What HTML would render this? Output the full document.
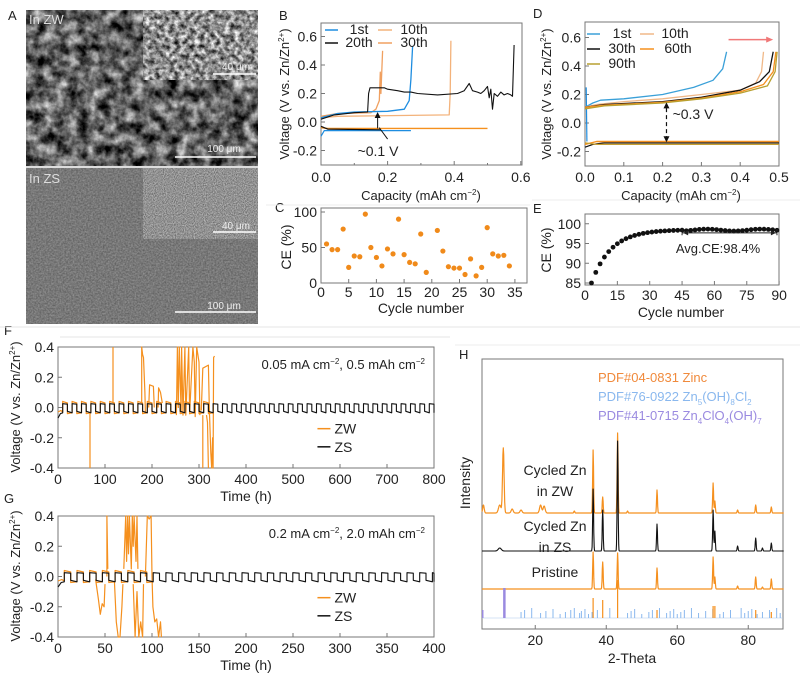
<!DOCTYPE html>
<html><head><meta charset="utf-8">
<style>
html,body{margin:0;padding:0;background:#fff;}
svg{display:block;font-family:"Liberation Sans",Arial,sans-serif;}
</style></head>
<body>
<svg id="s" width="800" height="675" viewBox="0 0 800 675" xmlns="http://www.w3.org/2000/svg">
<defs>
<filter id="semA" x="0" y="0" width="100%" height="100%" color-interpolation-filters="sRGB">
<feTurbulence type="fractalNoise" baseFrequency="0.09" numOctaves="4" seed="3"/>
<feColorMatrix type="matrix" values="1.3 0 0 0 -0.27  1.3 0 0 0 -0.27  1.3 0 0 0 -0.27  0 0 0 0 1"/>
</filter>
<filter id="semAi" x="0" y="0" width="100%" height="100%" color-interpolation-filters="sRGB">
<feTurbulence type="fractalNoise" baseFrequency="0.2" numOctaves="3" seed="7"/>
<feColorMatrix type="matrix" values="1.4 0 0 0 -0.15  1.4 0 0 0 -0.15  1.4 0 0 0 -0.15  0 0 0 0 1"/>
</filter>
<filter id="semB" x="0" y="0" width="100%" height="100%" color-interpolation-filters="sRGB">
<feTurbulence type="fractalNoise" baseFrequency="0.6" numOctaves="2" seed="5"/>
<feColorMatrix type="matrix" values="0.3 0 0 0 0.32  0.3 0 0 0 0.32  0.3 0 0 0 0.32  0 0 0 0 1"/>
</filter>
<filter id="semBi" x="0" y="0" width="100%" height="100%" color-interpolation-filters="sRGB">
<feTurbulence type="fractalNoise" baseFrequency="0.9" numOctaves="2" seed="9"/>
<feColorMatrix type="matrix" values="0.6 0 0 0 0.27  0.6 0 0 0 0.27  0.6 0 0 0 0.27  0 0 0 0 1"/>
</filter>
</defs>
<g id="g"></g>
</svg>
<script>
var S='';
function add(s){S+=s;}
function T(x,y,t,sz,anchor,col,extra){add('<text x="'+x+'" y="'+y+'" font-size="'+(sz||13)+'" text-anchor="'+(anchor||'middle')+'" fill="'+(col||'#222')+'" '+(extra||'')+'>'+t+'</text>');}
function L(x1,y1,x2,y2,c,w,extra){add('<line x1="'+x1+'" y1="'+y1+'" x2="'+x2+'" y2="'+y2+'" stroke="'+(c||'#555')+'" stroke-width="'+(w||1)+'" '+(extra||'')+'/>');}
function PL(pts,c,w,op){var d='';for(var i=0;i<pts.length;i++)d+=(i?'L':'M')+pts[i][0].toFixed(1)+' '+pts[i][1].toFixed(1);add('<path d="'+d+'" fill="none" stroke="'+c+'" stroke-width="'+(w||1.2)+'" '+(op?'stroke-opacity="'+op+'"':'')+' stroke-linejoin="round"/>');}
function frame(x1,y1,x2,y2){add('<rect x="'+x1+'" y="'+y1+'" width="'+(x2-x1)+'" height="'+(y2-y1)+'" fill="none" stroke="#777" stroke-width="1"/>');}
function map(pts,fx,fy){return pts.map(function(p){return [fx(p[0]),fy(p[1])];});}
var OR='#f5901e',LO='#f3b27a',BL='#1e8de0',BK='#111',TK=14;
function run(f){try{f();}catch(e){}}

T(8,20,'A',13,'start');T(279,20,'B',13,'start');T(275,212,'C',13,'start');T(533,18,'D',13,'start');T(533,213,'E',13,'start');
T(4,335,'F',13,'start');T(4,503,'G',13,'start');T(459,359,'H',13,'start');
L(0,327,800,327,'#e4e4e4',1);L(60,337,450,337,'#e4e4e4',1);L(455,345,800,345,'#eee',1);L(266,205,530,205,'#eee',1);L(532,200,800,200,'#eee',1);

// ===== A
run(function(){
add('<rect x="26" y="10" width="232" height="156" filter="url(#semA)"/>');
add('<rect x="143" y="10" width="115" height="70" filter="url(#semAi)" stroke="#eee" stroke-width="1"/>');
add('<rect x="26" y="168" width="232" height="156" filter="url(#semB)"/>');
add('<rect x="143" y="168" width="115" height="71" filter="url(#semBi)" stroke="#eee" stroke-width="1"/>');
L(26,167,258,167,'#ddd',2);
T(29,24,'In ZW',13,'start','#ddd');T(29,183,'In ZS',13,'start','#ddd');
T(236,70,'40 μm',10,'middle','#eee');L(213,74,256,74,'#fff',1.5);
T(236,229,'40 μm',10,'middle','#eee');L(213,232,256,232,'#fff',1.5);
T(224,152,'100 μm',10,'middle','#eee');L(175,157,256,157,'#fff',1.5);
T(224,309,'100 μm',10,'middle','#eee');L(175,312,256,312,'#fff',1.5);
});

// ===== B
run(function(){
var fx=function(v){return 321+v*333;},fy=function(v){return 122-v*142.5;};
frame(321,23,522,165);
[0,0.2,0.4,0.6].forEach(function(v){L(fx(v),165,fx(v),161,'#777');T(fx(v),182,v.toFixed(1),TK);});
[0.1,0.3,0.5].forEach(function(v){L(fx(v),165,fx(v),163,'#777');});
[-0.2,0,0.2,0.4,0.6].forEach(function(v){L(321,fy(v),325,fy(v),'#777');T(317,fy(v)+5,v.toFixed(1),TK,'end');});
T(421,200,'Capacity (mAh cm<tspan dy="-5" font-size="8">−2</tspan><tspan dy="5">)</tspan>',13);
T(0,0,'Voltage (V vs. Zn/Zn<tspan dy="-5" font-size="8">2+</tspan><tspan dy="5">)</tspan>',13,'middle','#222','transform="translate(289,94) rotate(-90)"');
PL(map([[0,-0.04],[0.02,-0.045],[0.5,-0.045]],fx,fy),OR,1.4);
PL(map([[0,-0.1],[0.01,-0.06],[0.27,-0.06]],fx,fy),BL,1.2);
PL(map([[0,-0.03],[0.02,-0.05],[0.18,-0.055]],fx,fy),BK,1.2);
PL(map([[0,0.03],[0.05,0.04],[0.385,0.05],[0.388,0.2],[0.39,0.57]],fx,fy),LO,1.3);
PL(map([[0,0.04],[0.05,0.06],[0.15,0.065],[0.165,0.09],[0.175,0.15],[0.178,0.35],[0.18,0.2],[0.185,0.5]],fx,fy),'#f0a060',1.3);
PL(map([[0,0.03],[0.05,0.06],[0.1,0.07],[0.2,0.075],[0.25,0.09],[0.265,0.15],[0.27,0.3],[0.275,0.53]],fx,fy),BL,1.3);
PL(map([[0,0.02],[0.04,0.05],[0.1,0.065],[0.14,0.07],[0.143,0.2],[0.147,0.24],[0.19,0.24],[0.2,0.23],[0.23,0.22],[0.25,0.21],[0.27,0.21],[0.29,0.2],[0.35,0.19],[0.41,0.2],[0.43,0.22],[0.445,0.27],[0.455,0.22],[0.47,0.21],[0.48,0.2],[0.49,0.22],[0.5,0.25],[0.505,0.17],[0.51,0.23],[0.515,0.09],[0.52,0.2],[0.53,0.18],[0.54,0.21],[0.55,0.19],[0.56,0.2],[0.57,0.19],[0.575,0.18],[0.58,0.54]],fx,fy),BK,1.1);
L(fx(0.17),fy(-0.045),fx(0.17),fy(0.06),BK,1);add('<path d="M'+fx(0.17)+' '+fy(0.07)+'l-3 6h6z" fill="#111"/>');
L(fx(0.175),fy(-0.04),fx(0.2),fy(-0.12),BK,1);
T(378,156,'~0.1 V',TK);
L(325,30,338,30,BL,1.5);T(359,34,'1st',TK);L(378,30,392,30,LO,1.5);T(414,34,'10th',TK);
L(325,43,338,43,BK,1.5);T(359,47,'20th',TK);L(378,43,392,43,'#f0a060',1.5);T(414,47,'30th',TK);
});

// ===== C
run(function(){
var fx=function(n){return 321+n*5.54;},fy=function(v){return 283-v*0.71;};
frame(321,208,527,283);
[0,5,10,15,20,25,30,35].forEach(function(n){L(fx(n),283,fx(n),279,'#777');T(fx(n),297,n,TK);});
[0,50,100].forEach(function(v){L(321,fy(v),325,fy(v),'#777');T(317,fy(v)+5,v,TK,'end');});
T(421,313,'Cycle number',14);
T(0,0,'CE (%)',14,'middle','#222','transform="translate(291,247) rotate(-90)"');
var vals=[55,47,47,76,22,38,37,97,50,36,24,48,41,90,40,29,27,69,15,null,74,45,23,21,21,12,34,10,22,78,41,38,39,24];
vals.forEach(function(v,i){if(v!=null)add('<circle cx="'+fx(i+1)+'" cy="'+fy(v)+'" r="2.6" fill="#f08a1a"/>');});
});

// ===== D
run(function(){
var fx=function(v){return 585+v*388;},fy=function(v){return 123-v*142.5;};
frame(585,22,779,166);
[0,0.1,0.2,0.3,0.4,0.5].forEach(function(v){L(fx(v),166,fx(v),162,'#777');T(fx(v),182,v.toFixed(1),TK);});
[-0.2,0,0.2,0.4,0.6].forEach(function(v){L(585,fy(v),589,fy(v),'#777');T(581,fy(v)+5,v.toFixed(1),TK,'end');});
T(681,200,'Capacity (mAh cm<tspan dy="-5" font-size="8">−2</tspan><tspan dy="5">)</tspan>',13);
T(0,0,'Voltage (V vs. Zn/Zn<tspan dy="-5" font-size="8">2+</tspan><tspan dy="5">)</tspan>',13,'middle','#222','transform="translate(551,94) rotate(-90)"');
PL(map([[0,-0.17],[0.02,-0.15],[0.05,-0.14],[0.5,-0.14]],fx,fy),BK,1.2);
PL(map([[0,-0.15],[0.03,-0.13],[0.5,-0.13]],fx,fy),OR,1.4);
PL(map([[0,-0.14],[0.03,-0.15],[0.5,-0.15]],fx,fy),'#c8a030',1.2);
PL(map([[0.003,0.25],[0.005,-0.13]],fx,fy),BL,1.2);
function ch(pts,c){PL(map(pts,fx,fy),c,1.3);}
ch([[0,0.11],[0.02,0.14],[0.04,0.16],[0.1,0.17],[0.2,0.2],[0.28,0.25],[0.33,0.3],[0.355,0.38],[0.365,0.5]],'#3aa0d8');
ch([[0,0.11],[0.03,0.13],[0.1,0.15],[0.2,0.17],[0.3,0.2],[0.4,0.23],[0.44,0.28],[0.455,0.36],[0.46,0.5]],'#f0b888');
ch([[0,0.11],[0.05,0.13],[0.2,0.15],[0.3,0.18],[0.4,0.23],[0.45,0.29],[0.475,0.36],[0.485,0.5]],BK);
ch([[0,0.11],[0.05,0.125],[0.2,0.145],[0.3,0.175],[0.4,0.22],[0.46,0.27],[0.485,0.36],[0.492,0.5]],OR);
ch([[0,0.1],[0.05,0.12],[0.2,0.14],[0.3,0.17],[0.4,0.21],[0.47,0.26],[0.49,0.36],[0.495,0.5]],'#b8a030');
L(fx(0.37),fy(0.585),fx(0.47),fy(0.585),'#f07878',1.5);add('<path d="M'+fx(0.485)+' '+fy(0.585)+'l-7 -3v6z" fill="#f07878"/>');
L(fx(0.21),fy(-0.12),fx(0.21),fy(0.13),BK,1.2,'stroke-dasharray="4,3"');
add('<path d="M'+fx(0.21)+' '+fy(0.145)+'l-3 6h6z" fill="#111"/><path d="M'+fx(0.21)+' '+fy(-0.135)+'l-3 -6h6z" fill="#111"/>');
T(693,119,'~0.3 V',TK);
L(587,34,600,34,'#3aa0d8',1.5);T(622,38,'1st',TK);L(640,34,654,34,'#f0b888',1.5);T(675,38,'10th',TK);
L(587,49,600,49,BK,1.5);T(622,53,'30th',TK);L(640,49,654,49,OR,1.5);T(678,53,'60th',TK);
L(587,64,600,64,'#b8a030',1.5);T(622,68,'90th',TK);
});

// ===== E
run(function(){
var fx=function(n){return 585+n*2.157;},fy=function(v){return 283-(v-85)*3.95;};
frame(585,214,779,285);
[0,15,30,45,60,75,90].forEach(function(n){L(fx(n),285,fx(n),281,'#777');T(fx(n),300,n,TK);});
[85,90,95,100].forEach(function(v){L(585,fy(v),589,fy(v),'#777');T(581,fy(v)+5,v,TK,'end');});
T(681,317,'Cycle number',14);
T(0,0,'CE (%)',14,'middle','#222','transform="translate(551,250) rotate(-90)"');
for(var n=3;n<=89;n+=2){var v=98.5-13.5*Math.exp(-(n-3)/9);if(n>45)v=98.4+0.25*Math.sin(n/4);add('<circle cx="'+fx(n)+'" cy="'+fy(v)+'" r="2.4" fill="#111"/>');}
L(fx(45),fy(97.7),fx(89),fy(97.7),'#222',1);L(fx(45),fy(98.6),fx(45),fy(96.6),'#222',1,'stroke-dasharray="2,2"');L(fx(89),fy(98.6),fx(89),fy(96.6),'#222',1,'stroke-dasharray="2,2"');
add('<path d="M'+fx(45.5)+' '+fy(97.7)+'l5 -2.5v5z" fill="#222"/><path d="M'+fx(88.5)+' '+fy(97.7)+'l-5 -2.5v5z" fill="#222"/>');
T(718,253,'Avg.CE:98.4%',13);
});

// ===== F / G
function panelFG(top,tmax,ticks,per,label,zw){
var bot=top+121;
var fx=function(t){return 58+t*(376/tmax);},fy=function(v){return top+60.5-v*151.25;};
frame(58,top,434,bot);
ticks.forEach(function(t){L(fx(t),bot,fx(t),bot-4,'#777');T(fx(t),bot+16,t,TK);});
[-0.4,-0.2,0,0.2,0.4].forEach(function(v){L(58,fy(v),62,fy(v),'#777');T(54,fy(v)+5,v.toFixed(1),TK,'end');});
T(246,bot+33,'Time (h)',14);
T(0,0,'Voltage (V vs. Zn/Zn<tspan dy="-5" font-size="8">2+</tspan><tspan dy="5">)</tspan>',13,'middle','#222','transform="translate(20,'+(top+60)+') rotate(-90)"');
T(425,top+22,label,13,'end');
var pts=[[0,-0.03],[per*0.3,-0.02]];
for(var t=per*0.5;t<zw.end;t+=per){pts.push([t,-0.03],[t,0.04],[t+per*0.5,0.03],[t+per*0.5,-0.04],[t+per,-0.035]);}
PL(map(pts,fx,fy),OR,1.2);
zw.sp.forEach(function(s){var p=s.map(function(q){return [fx(q[0]),fy(Math.max(-0.4,Math.min(0.4,q[1])))];});PL(p,OR,1.2);});
var b=[[0,-0.07],[per*0.25,-0.04],[per*0.5,-0.035]];
for(var t=per*0.5;t<tmax;t+=per){b.push([t,-0.03],[t,0.025],[Math.min(tmax,t+per*0.5),0.022],[Math.min(tmax,t+per*0.5),-0.025],[Math.min(tmax,t+per),-0.035]);}
PL(map(b,fx,fy),BK,1.1);
L(fx(tmax*0.69),fy(-0.14),fx(tmax*0.69)+13,fy(-0.14),OR,1.5);T(fx(tmax*0.69)+17,fy(-0.14)+5,'ZW',14,'start');
L(fx(tmax*0.69),fy(-0.26),fx(tmax*0.69)+13,fy(-0.26),BK,1.5);T(fx(tmax*0.69)+17,fy(-0.26)+5,'ZS',14,'start');
}
run(function(){
panelFG(347,800,[0,100,200,300,400,500,600,700,800],20,'0.05 mA cm<tspan dy="-5" font-size="8">−2</tspan><tspan dy="5">, 0.5 mAh cm</tspan><tspan dy="-5" font-size="8">−2</tspan>',
{end:330,sp:[[[68,-0.03],[68,-0.5]],[[117,0.03],[117,0.5]],[[178,0.03],[178,0.5],[180,0.35],[182,0.33],[185,0.1],[186,-0.04]],
[[193,0.0],[195,0.15],[203,0.14],[205,0.0]],[[213,0.0],[214,0.13],[218,0.1],[222,0.03]],
[[252,-0.05],[254,0.5],[256,0.0],[258,0.5],[262,-0.03],[263,0.5],[266,-0.05],[270,0.5],[272,-0.05],[278,0.5],[280,-0.04],[287,0.5],[290,0.3],[292,-0.06],[295,0.5],[300,0.3],[302,-0.05]],
[[308,-0.05],[308,-0.5]],[[305,-0.02],[308,0.26],[320,0.28],[322,0.0],[325,-0.3],[327,-0.5],[329,-0.2],[330,-0.5],[331,0.33],[333,0.34]],[[316,-0.05],[318,-0.1],[320,-0.5]]]});
});
run(function(){
panelFG(516,400,[0,50,100,150,200,250,300,350,400],13.5,'0.2 mA cm<tspan dy="-5" font-size="8">−2</tspan><tspan dy="5">, 2.0 mAh cm</tspan><tspan dy="-5" font-size="8">−2</tspan>',
{end:100,sp:[[[40,-0.02],[43,-0.15],[45,-0.25],[47,-0.18],[49,-0.2],[50,-0.05]],[[52,0.0],[52,0.4],[53,0.05]],
[[60,-0.03],[62,-0.3],[64,-0.4],[66,-0.4],[68,-0.2],[69,-0.05]],
[[70,0.05],[72,0.4],[73,0.1],[74,0.4],[75,0.15],[76,0.4],[78,0.05],[79,0.4],[80,0.2],[81,0.4],[83,0.1],[84,0.4],[85,0.05]],
[[80,-0.05],[82,-0.4],[84,-0.1],[86,-0.4],[88,-0.3],[90,-0.4],[91,-0.05]],
[[93,0.0],[95,0.4],[97,0.38],[99,0.4],[100,0.0],[101,-0.2],[103,-0.3],[105,-0.28],[107,-0.4],[109,-0.3],[110,-0.4]]]});
});

// ===== H
run(function(){
var fx=function(t){return 482+(t-5)*3.55;};
frame(482,359,783,629);
[20,40,60,80].forEach(function(t){L(fx(t),629,fx(t),625,'#777');T(fx(t),645,t,TK);});
T(632,663,'2-Theta',14);
T(0,0,'Intensity',14,'middle','#222','transform="translate(470,483) rotate(-90)"');
function trace(base,peaks,c,w){var p=[];for(var t=5;t<=90;t+=0.1){var y=base;peaks.forEach(function(k){var s=k[2]||0.18;y-=k[1]*Math.exp(-Math.pow((t-k[0])/s,2));});p.push([fx(t),y]);}PL(p,c,w||1.1);}
trace(513,[[5.4,8,0.3],[10,8,0.5],[11,65,0.3],[13.5,4,0.4],[16,3,0.4],[21.5,8,0.4],[22.5,7,0.4],[31,2],[36.3,63],[39,16],[43.2,80],[46,2],[54.3,23],[70.1,30],[70.6,12],[77,3],[82.1,8],[86.5,6]],OR,1.2);
trace(589,[[36.3,37],[39,27],[43.2,36],[54.3,21],[70.1,32],[70.6,12],[77,3],[82.1,12],[84,2],[86.5,10]],OR,1.2);
trace(551,[[10,3,0.6],[36.3,62],[39,41],[43.2,110],[54.3,27],[70.1,41],[70.6,20],[77,5],[82.1,13],[84,3],[86.5,8]],BK,1.1);
L(482,618,783,618,'#aac8ee',0.6);
var bl=[5.2,16,17,19,21.5,23,25,27,28.5,30,31,32.5,33,34,35,36,37.5,41,46,47,48,50,52,53,55,57,58,59,60,61,62,64,66,68,70,72,73,75,78,79,80,81,82.5,84,86,88,89];
bl.forEach(function(t,i){L(fx(t),618,fx(t),618-(4+((i*37)%7)),'#8ab8ee',1);});
[[36.3,20],[39,18],[43.2,38],[54.3,8],[70.1,12],[70.6,12],[82.1,8],[86.5,6]].forEach(function(k){L(fx(k[0]),618,fx(k[0]),618-k[1],'#f5901e',1.2);});
L(fx(11.3),618,fx(11.3),588,'#9a8ae0',2.5);L(fx(5.2),618,fx(5.2),610,'#9a8ae0',1.5);
T(598,382,'PDF#04-0831 Zinc',13,'start','#f08a3c');
T(598,401,'PDF#76-0922 Zn<tspan dy="4" font-size="8">5</tspan><tspan dy="-4">(OH)</tspan><tspan dy="4" font-size="8">8</tspan><tspan dy="-4">Cl</tspan><tspan dy="4" font-size="8">2</tspan>',13,'start','#8ab8ee');
T(598,420,'PDF#41-0715 Zn<tspan dy="4" font-size="8">4</tspan><tspan dy="-4">ClO</tspan><tspan dy="4" font-size="8">4</tspan><tspan dy="-4">(OH)</tspan><tspan dy="4" font-size="8">7</tspan>',13,'start','#9a8ae0');
T(555,475,'Cycled Zn',14);T(555,496,'in ZW',14);
T(555,531,'Cycled Zn',14);T(555,552,'in ZS',14);
T(555,577,'Pristine',14);
});

document.getElementById('g').innerHTML=S;
</script>
</body></html>
